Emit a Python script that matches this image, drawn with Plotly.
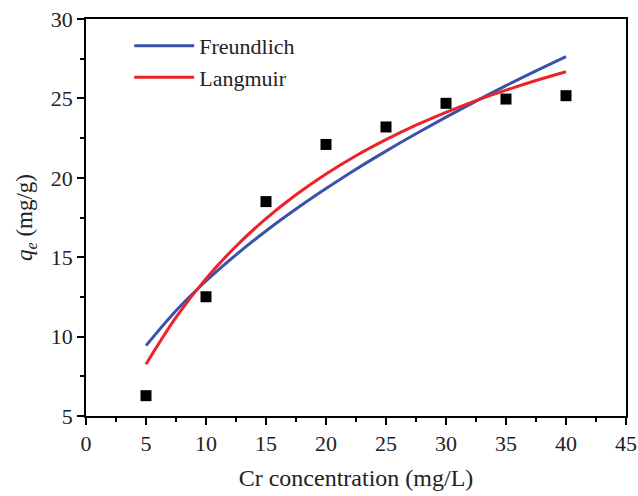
import plotly.graph_objects as go

# Experimental data
conc = [5, 10, 15, 20, 25, 30, 35, 40]
qe = [6.28, 12.51, 18.5, 22.1, 23.2, 24.69, 24.96, 25.17]

# Fitted curves
fit_x = [5, 7.5, 10, 12.5, 15, 17.5, 20, 22.5, 25, 27.5, 30, 32.5, 35, 37.5, 40]
freundlich = [9.43, 11.63, 13.50, 15.15, 16.65, 18.03, 19.32, 20.54, 21.68, 22.77, 23.82, 24.83, 25.80, 26.73, 27.63]
langmuir = [8.26, 11.21, 13.65, 15.69, 17.43, 18.93, 20.24, 21.39, 22.40, 23.31, 24.12, 24.86, 25.52, 26.13, 26.68]

x_ticks = [0, 5, 10, 15, 20, 25, 30, 35, 40, 45]
y_ticks = [5, 10, 15, 20, 25, 30]

FONT = "Liberation Serif"

fig = go.Figure()
fig.add_trace(go.Scatter(x=fit_x, y=freundlich, mode="lines", name="Freundlich",
                         line=dict(color="#3a52a8", width=3, shape="spline")))
fig.add_trace(go.Scatter(x=fit_x, y=langmuir, mode="lines", name="Langmuir",
                         line=dict(color="#ee2229", width=3, shape="spline")))
fig.add_trace(go.Scatter(x=conc, y=qe, mode="markers", showlegend=False,
                         marker=dict(symbol="square", size=11, color="black")))

axis_common = dict(showline=True, linecolor="black", linewidth=1.5, mirror=True,
                   ticks="outside", ticklen=7, tickwidth=1.5, tickcolor="black",
                   showgrid=False, zeroline=False, automargin=False,
                   tickfont=dict(family=FONT, size=22, color="#222"),
                   minor=dict(ticks="outside", ticklen=4, tickwidth=1.5, tickcolor="black"))

fig.update_xaxes(range=[0, 45], tickvals=x_ticks, ticktext=[str(v) for v in x_ticks],
                 title=dict(text="Cr concentration (mg/L)", font=dict(family=FONT, size=24, color="#222"), standoff=14),
                 **axis_common)
fig.update_yaxes(range=[5, 30], tickvals=y_ticks, ticktext=[str(v) for v in y_ticks],
                 title=dict(text="<i>q</i><sub><i>e</i></sub> (mg/g)", font=dict(family=FONT, size=23, color="#222"), standoff=12),
                 **axis_common)
fig.update_xaxes(minor=dict(dtick=2.5, tick0=0))
fig.update_yaxes(minor=dict(dtick=2.5, tick0=0))

fig.update_layout(
    width=638, height=496,
    margin=dict(l=86, r=12, t=19, b=80),
    paper_bgcolor="white", plot_bgcolor="white",
    font=dict(family=FONT, size=22, color="#222"),
    legend=dict(x=0.08, y=0.985, xanchor="left", yanchor="top",
                bgcolor="rgba(0,0,0,0)", font=dict(family=FONT, size=22, color="#222"),
                itemwidth=60),
)

fig.write_html("out.html")
